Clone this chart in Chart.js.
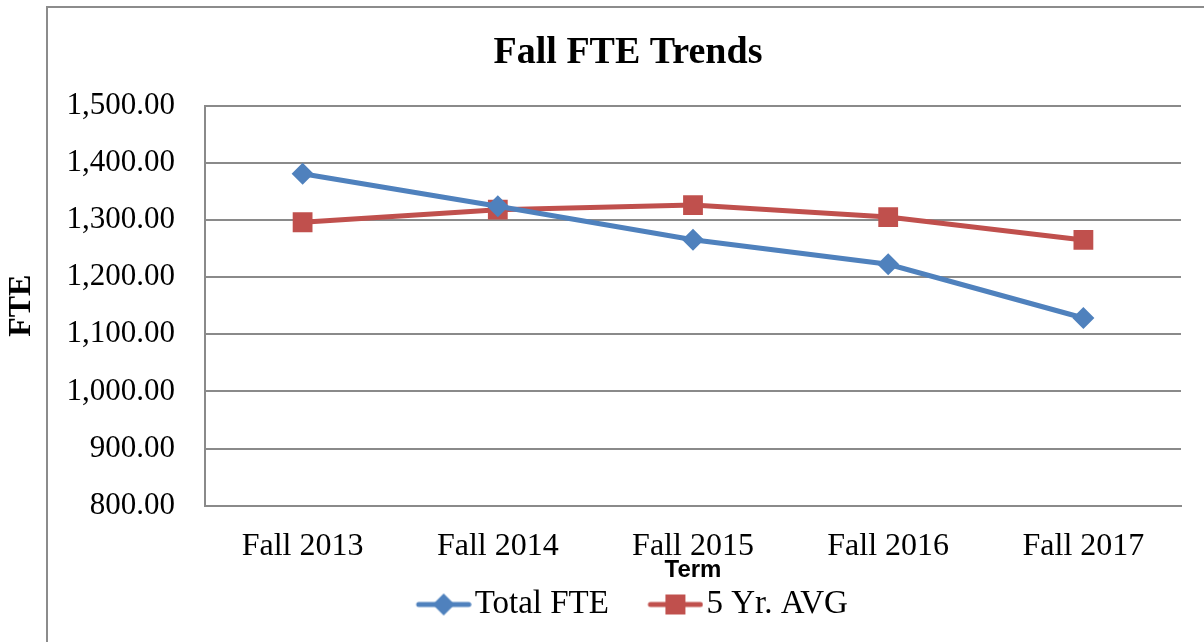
<!DOCTYPE html>
<html>
<head>
<meta charset="utf-8">
<script src="https://cdn.jsdelivr.net/npm/chart.js@4/dist/chart.umd.min.js"></script>
<style>
  html, body { margin: 0; padding: 0; background: #ffffff; }
  .wrap { position: relative; width: 1204px; height: 642px; overflow: hidden; }
  .frame { position: absolute; left: 46px; top: 6px; width: 1200px; height: 700px; border: 2px solid #8c8c8c; }
  canvas { position: absolute; left: 0; top: 0; }
</style>
</head>
<body>
<div class="wrap">
  <div class="frame"></div>
  <canvas id="chart" width="1204" height="642"></canvas>
</div>
<script>
const terms = ['Fall 2013', 'Fall 2014', 'Fall 2015', 'Fall 2016', 'Fall 2017'];
const totalFte = [1380.7, 1324, 1265.5, 1222.5, 1128.5];
const fiveYrAvg = [1296, 1318, 1326, 1305, 1265];
const yTicks = [800, 900, 1000, 1100, 1200, 1300, 1400, 1500];

const blue = '#4f81bd';
const red = '#c0504d';
const gridGray = '#8a8a8a';
const serif = "'Liberation Serif', 'Times New Roman', serif";

// legend glyph: line with the marker on top, like Excel.
// left part of the canvas stays empty so the glyph sits right next to its text
function legendGlyph(color, shape) {
  const c = document.createElement('canvas');
  c.width = 77;
  c.height = 24;
  const g = c.getContext('2d');
  const x0 = c.width - 56;
  g.strokeStyle = color;
  g.lineWidth = 5;
  g.lineCap = 'round';
  g.beginPath();
  g.moveTo(x0 + 3, 12);
  g.lineTo(x0 + 53, 12);
  g.stroke();
  g.fillStyle = color;
  g.beginPath();
  if (shape === 'diamond') {
    g.moveTo(x0 + 28, 1);
    g.lineTo(x0 + 39, 12);
    g.lineTo(x0 + 28, 23);
    g.lineTo(x0 + 17, 12);
  } else {
    g.rect(x0 + 18, 2, 20, 20);
  }
  g.closePath();
  g.fill();
  return c;
}

const glyphs = [legendGlyph(blue, 'diamond'), legendGlyph(red, 'square')];

new Chart(document.getElementById('chart'), {
  type: 'line',
  data: {
    labels: terms,
    datasets: [
      {
        label: 'Total FTE',
        data: totalFte,
        borderColor: blue,
        backgroundColor: blue,
        borderWidth: 5,
        pointStyle: 'rectRot',
        pointRadius: 11,
        pointBorderWidth: 0,
        tension: 0,
      },
      {
        label: '5 Yr. AVG',
        data: fiveYrAvg,
        borderColor: red,
        backgroundColor: red,
        borderWidth: 5,
        pointStyle: 'rect',
        pointRadius: 14,
        pointBorderWidth: 0,
        tension: 0,
      },
    ],
  },
  options: {
    responsive: false,
    animation: false,
    layout: {
      padding: { left: 61, top: 7, right: 9, bottom: 11 },
    },
    plugins: {
      title: {
        display: true,
        text: 'Fall FTE Trends',
        color: '#000000',
        font: { family: serif, size: 38, weight: 'bold' },
        padding: { top: 23, bottom: 30 },
      },
      legend: {
        position: 'bottom',
        labels: {
          color: '#000000',
          font: { family: serif, size: 33 },
          usePointStyle: true,
          pointStyleWidth: 50,
          padding: 31,
          generateLabels: (chart) => chart.data.datasets.map((ds, i) => ({
            text: ds.label,
            pointStyle: glyphs[i],
            fillStyle: ds.borderColor,
            strokeStyle: ds.borderColor,
            lineWidth: 0,
            datasetIndex: i,
            hidden: false,
          })),
        },
      },
      tooltip: { enabled: false },
    },
    scales: {
      x: {
        offset: true,
        grid: { display: false, drawTicks: false },
        border: { display: true, color: gridGray, width: 2 },
        ticks: {
          color: '#000000',
          font: { family: serif, size: 32 },
          padding: 22,
          maxRotation: 0,
        },
        title: {
          display: true,
          text: 'Term',
          color: '#000000',
          font: { family: "'Liberation Sans', Arial, sans-serif", size: 24, weight: 'bold' },
          padding: { top: -32, bottom: -28 },
        },
      },
      y: {
        min: 800,
        max: 1500,
        afterFit: (scale) => { scale.width = 144; },
        afterBuildTicks: (scale) => { scale.ticks = yTicks.map(v => ({ value: v })); },
        grid: { color: gridGray, lineWidth: 2, drawTicks: false },
        border: { display: true, color: gridGray, width: 2 },
        ticks: {
          color: '#000000',
          font: { family: serif, size: 31 },
          padding: 30,
          callback: (v) => Number(v).toLocaleString('en-US', { minimumFractionDigits: 2, maximumFractionDigits: 2 }),
        },
        title: {
          display: true,
          text: 'FTE',
          color: '#000000',
          font: { family: serif, size: 32, weight: 'bold' },
          padding: { top: -58, bottom: 0 },
        },
      },
      // empty spacer on the right so the title centres on the frame
      yRight: {
        position: 'right',
        afterFit: (scale) => { scale.width = 14; },
        grid: { display: false, drawTicks: false },
        border: { display: false },
        ticks: { display: false },
      },
    },
  },
});
</script>
</body>
</html>
